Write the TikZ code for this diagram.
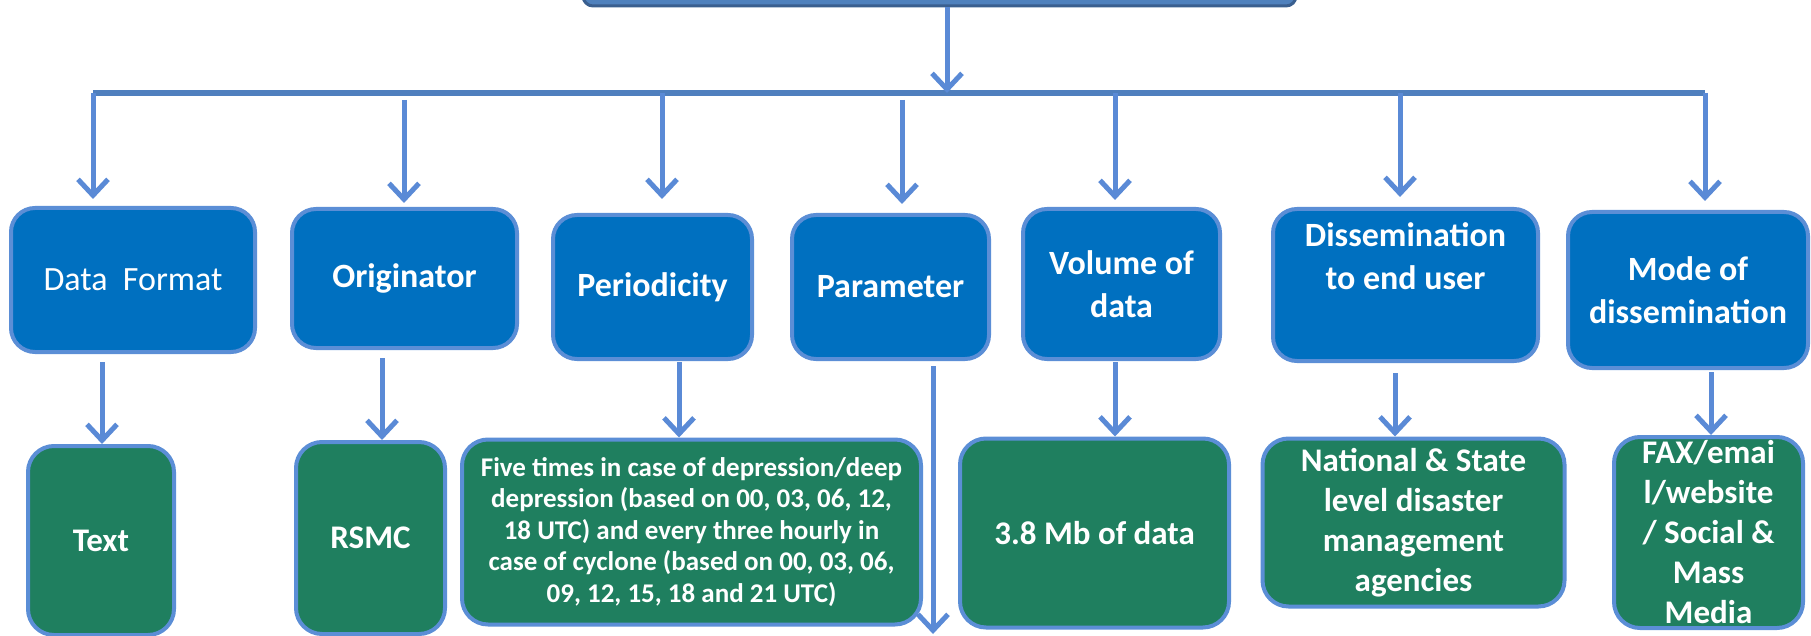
\documentclass[tikz,border=0pt]{standalone}
\usepackage{fontspec}
\setmainfont{Carlito}
\usetikzlibrary{arrows.meta}
\definecolor{hblue}{HTML}{0070C0}
\definecolor{edgeblue}{HTML}{5B8ED6}
\definecolor{gfill}{HTML}{1F7F5F}
\definecolor{conn}{HTML}{5A8AD6}
\definecolor{busc}{HTML}{4F7FBE}
\definecolor{topfill}{HTML}{4F81BD}
\definecolor{topedge}{HTML}{3A5F8F}
\tikzset{
  hdr/.style={rounded corners=24pt, fill=hblue, draw=edgeblue, line width=4pt,
    text=white, align=center, inner sep=0pt,
    font=\fontsize{34}{43}\selectfont\bfseries},
  gbox/.style={rounded corners=26pt, fill=gfill, draw=edgeblue, line width=4pt,
    text=white, align=center, inner sep=0pt,
    font=\fontsize{33}{40}\selectfont\bfseries},
  arr/.style={draw=conn, line width=5pt, -{Straight Barb[length=16pt,width=30pt]}},
}
\begin{document}
\begin{tikzpicture}[x=1pt,y=-1pt]
\useasboundingbox (0,0) rectangle (1811,636);
\clip (0,0) rectangle (1811,636);

% top box (only bottom edge visible)
\node[rounded corners=10pt, fill=topfill, draw=topedge, line width=3pt,
  minimum width=713pt, minimum height=60pt, inner sep=0pt] (top) at (939.5,-24) {};

% header boxes
\node[hdr, minimum width=244pt, minimum height=144pt, font=\fontsize{34}{43}\selectfont] (df) at (133,280) {Data\hspace{0.45em}Format};
\node[hdr, minimum width=225pt, minimum height=139pt] (orig) at (404.5,278.5) {Originator};
\node[hdr, minimum width=199pt, minimum height=144pt] (per) at (652.5,287) {Periodicity};
\node[hdr, minimum width=197pt, minimum height=144pt] (par) at (890.5,287) {Parameter};
\node[hdr, minimum width=197pt, minimum height=150pt] (vol) at (1121.5,284) {Volume of\\data};
\node[hdr, minimum width=265pt, minimum height=152pt, text depth=58pt] (dis) at (1405.5,285) {Dissemination\\to end user};
\node[hdr, minimum width=240pt, minimum height=156pt] (mode) at (1688,290) {Mode of\\dissemination};

% green boxes
\node[gbox, minimum width=146pt, minimum height=189pt] (txt) at (101,540.5) {Text};
\node[gbox, minimum width=149pt, minimum height=192pt] (rsmc) at (370.5,538) {RSMC};
\node[gbox, minimum width=459pt, minimum height=185pt,
  font=\fontsize{27}{31.5}\selectfont\bfseries] (pertxt) at (691.5,532)
  {Five times in case of depression/deep\\depression (based on 00, 03, 06, 12,\\18 UTC) and every three hourly in\\case of cyclone (based on 00, 03, 06,\\09, 12, 15, 18 and 21 UTC)};
\node[gbox, minimum width=269pt, minimum height=189pt] (voltxt) at (1094.5,533) {3.8 Mb of data};
\node[gbox, minimum width=302pt, minimum height=168pt] (distxt) at (1413.5,522.5) {National \& State\\level disaster\\management\\agencies};
\node[gbox, minimum width=189pt, minimum height=191pt] (modetxt) at (1708.5,532.5) {FAX/emai\\l/website\\/ Social \&\\Mass\\Media};

% bus
\coordinate (bl) at (93,93);
\coordinate (br) at (1705,93);
\coordinate (bc) at (947,93);
\draw[busc, line width=6pt] (bl) -- (br);
\draw[arr] (top.south -| bc) -- (bc);

% bus taps
\coordinate (t1) at (93,93);
\coordinate (t2) at (404,100);
\coordinate (t3) at (662,93);
\coordinate (t4) at (902,100);
\coordinate (t5) at (1115,93);
\coordinate (t6) at (1400,93);
\coordinate (t7) at (1705,93);
\draw[arr, shorten >=7pt] (t1) -- (df.north -| t1);
\draw[arr, shorten >=4pt] (t2) -- (orig.north -| t2);
\draw[arr, shorten >=14pt] (t3) -- (per.north -| t3);
\draw[arr, shorten >=9pt] (t4) -- (par.north -| t4);
\draw[arr, shorten >=7pt] (t5) -- (vol.north -| t5);
\draw[arr, shorten >=10pt] (t6) -- (dis.north -| t6);
\draw[arr, shorten >=9pt] (t7) -- (mode.north -| t7);

% lower connectors
\coordinate (d1) at (102,0);
\coordinate (d2) at (382,0);
\coordinate (d3) at (679,0);
\coordinate (d4) at (933,0);
\coordinate (d5) at (1115,0);
\coordinate (d6) at (1395,0);
\coordinate (d7) at (1711,0);
\coordinate (pend) at (933,634);
\draw[arr, shorten <=8pt] (df.south -| d1) -- (txt.north -| d1);
\draw[arr, shorten <=8pt] (orig.south -| d2) -- (rsmc.north -| d2);
\draw[arr, shorten <=1pt] (per.south -| d3) -- (pertxt.north -| d3);
\draw[arr, shorten <=5pt] (par.south -| d4) -- (pend);
\draw[arr, shorten <=1pt] (vol.south -| d5) -- (voltxt.north -| d5);
\draw[arr, shorten <=10pt] (dis.south -| d6) -- (distxt.north -| d6);
\draw[arr, shorten <=2pt] (mode.south -| d7) -- (modetxt.north -| d7);
\end{tikzpicture}
\end{document}
